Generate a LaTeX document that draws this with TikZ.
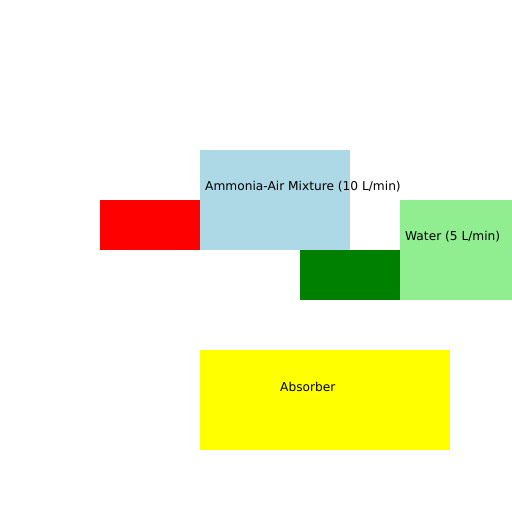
\documentclass[tikz,border=0pt]{standalone}
\usepackage{fontspec}
\setmainfont{DejaVu Sans}
\definecolor{cRed}{RGB}{255,0,0}
\definecolor{cDkGreen}{RGB}{0,128,0}
\definecolor{cLtGreen}{RGB}{144,238,144}
\definecolor{cLtBlue}{RGB}{173,216,230}
\definecolor{cYellow}{RGB}{255,255,0}
\begin{document}
\begin{tikzpicture}[x=1pt,y=1pt,
  lbl/.style={anchor=west,inner sep=0pt,font=\fontsize{12.2}{14}\selectfont}]
\useasboundingbox (0,0) rectangle (512,512);
\fill[white] (0,0) rectangle (512,512);
\fill[cRed] (100,262) rectangle (200,312);
\fill[cDkGreen] (300,212) rectangle (400,262);
\fill[cLtGreen] (400,212) rectangle (512,312);
\fill[cLtBlue] (200,262) rectangle (350,362);
\fill[cYellow] (200,62) rectangle (450,162);
\node[lbl] (amm) at (205,325.5) {Ammonia-Air Mixture (10 L/min)};
\node[lbl] (wat) at (405,275.5) {Water (5 L/min)};
\node[lbl] (abs) at (280,125.5) {Absorber};
\end{tikzpicture}
\end{document}
